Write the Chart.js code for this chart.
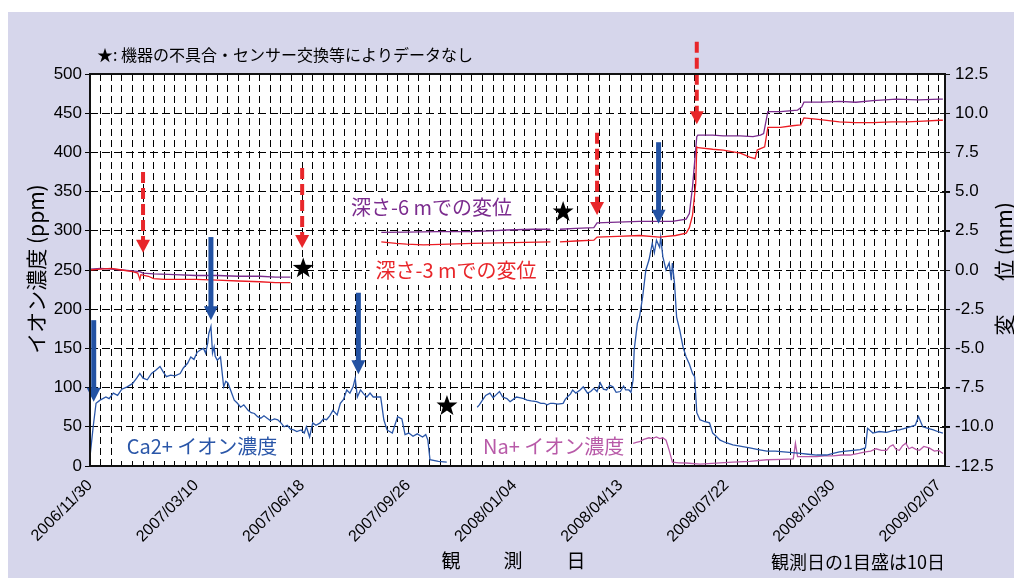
<!DOCTYPE html>
<html><head><meta charset="utf-8">
<script src="https://cdn.jsdelivr.net/npm/chart.js@4.4.1/dist/chart.umd.min.js"></script>
<style>
html,body{margin:0;padding:0;background:#fff;}
#wrap{position:relative;width:1014px;height:578px;}
</style></head><body>
<div id="wrap"><canvas id="c"></canvas></div>
<script>
// ---- tick labels (days since 2006/11/30) ----
const dayTicks = [0,100,200,300,400,500,600,700,800];
const dateLabels = ['2006/11/30','2007/03/10','2007/06/18','2007/09/26','2008/01/04','2008/04/13','2008/07/22','2008/10/30','2009/02/07'];

// ---- Ca2+ ion concentration (ppm) ----
const caDays = [0,3,5.7,9.5,15,18,22,26,30,35,40,44,47,50,54,58,62,66,69,72,76,80,85,88,92,95,98,101,104,107,109,111,112,114,115.5,117,118,120,123,126,128,130,133,136,139,142,145,149,152,155,158,161,164,167,170,174,177,180,183,186,189,192,195,199,202,204,207,210,213,217,220,223,226,229,233,236,239,242,245,248,250,252,255,258,261,264,267,271,274,277,280,285,290,294,297,300.5,304.5,308.5,313.5,316.5,318.5,320.5,328.4,336.3,350,
365,367,370,373,377,380,383,386,389,393,396,399,402,406,409,412,416,421,425,428,431,434,437,441,446,448,450,453,455,458,462,465,469,472,475,478,481,484,487,490,493,496,500,503,505,508,510,512,513,516,518,521,524,527,530,532,534,537,538,540,543,546,548,549,551,553,556,559,562,565,568,570,572,575,579,584,587,591,594,599,606,614,622,630,638,646,654,662,670,677,685,694.5,700.5,706.5,712.5,719.5,726,731,733,738,744,751,757,763,768,773,778,781,785,790,795,799,804];
const caPpm = [12,50,80,84,88,86,93,90,98,101,105,112,118,112,110,118,122,127,120,114,116,115,118,125,131,139,136,145,148,150,144,157,169,178,144,152,140,135,139,101,108,106,95,84,80,75,78,71,68,67,63,61,64,61,58,60,59,55,50,52,47,46,44,46,42,50,37,55,52,55,60,59,64,71,65,80,85,97,93,101,112,88,97,92,88,93,88,88,88,59,46,42,63,60,40,42,38,41,37,40,33,8,6,5,null,
75,78,84,90,93,87,91,95,88,86,82,85,88,87,86,84,83,82,80,80,78,80,80,79,80,85,88,92,97,93,97,101,93,95,99,95,106,98,97,103,101,94,95,102,97,97,94,110,148,182,190,216,250,263,284,272,288,279,292,267,250,259,237,259,233,190,173,152,139,130,118,114,68,59,57,55,42,37,33,30,27,25,23,21,19,19,18,17,16,15,14,14,16,18,19,20,21,23,48,42,44,43,45,46,48,50,52,63,50,48,46,44,42];

// ---- Na+ ion concentration (ppm) ----
const naDays = [512,515,518,522,527,530,534,537,540,543,546,549,555,562,575,594,606,622,638,652,663,665,667,677,685,692.5,700.5,708.5,716.5,724.5,731,736,741,746,751,754,757,760,763,766,769,772,775,779,782,786,791,796,800,804];
const naPpm = [29,30,31,34,36,35,37,35,36,33,20,5,4,3.8,2.5,4,5,6,8,8.5,9,29,12,12,12,13,13,14,14,16,18,19,22,20,20,25,27,21,20,26,29,22,24,21,20,25,23,19,20,16];

// ---- displacement at depth -6 m (mm) ----
const d6Days = [0,10,20,30,40,47,50,60,80,100,120,140,160,175,189,230,274.6,298.5,328.4,358,378,393,418,434,440,443,458,475,478,497.5,518,537,549,562,565,568,572,573,587,597,613,625,632,635,639,651,667,671,673,690.5,706.5,722,738,760,781,801,804];
const d6mm = [0.05,0.1,0.05,0,-0.05,-0.1,-0.2,-0.25,-0.3,-0.35,-0.35,-0.4,-0.4,-0.45,-0.45,null,2.4,2.42,2.45,2.45,2.5,2.55,2.6,2.6,null,2.6,2.65,2.7,3.0,3.05,3.1,3.1,3.1,3.25,3.6,5.3,8.5,8.6,8.6,8.55,8.55,8.5,8.6,8.7,10.1,10.1,10.2,10.4,10.7,10.7,10.75,10.7,10.8,10.9,10.85,10.9,10.9];

// ---- displacement at depth -3 m (mm) ----
const d3Days = [0,10,20,30,40,45,47,48,55,60,70,80,100,120,140,160,175,189,230,274.6,288.5,298.5,314.5,338,361,398,434,440,443,458,475,478,497.5,518,537,552,562,565,568,571,572,573,587,597,613,622,627,629,636,639,651,662,670,673,686.5,706.5,721,738,756,770,786,801,804];
const d3mm = [0,0.05,0.1,0,-0.1,-0.2,-0.6,-0.3,-0.4,-0.55,-0.6,-0.6,-0.6,-0.65,-0.7,-0.75,-0.8,-0.8,null,1.8,1.7,1.65,1.6,1.65,1.7,1.75,1.8,null,1.8,1.85,1.9,2.1,2.15,2.2,2.1,2.2,2.35,2.7,3.5,5.5,7.85,7.8,7.7,7.65,7.45,7.2,7.1,7.65,7.85,9.1,9.1,9.2,9.25,9.7,9.6,9.45,9.4,9.4,9.45,9.45,9.5,9.55,9.55];

// ---- annotations (data units: day, ppm) ----
const redArrowDays = [50,200,478,572];
const redArrowTop  = [375,380,425,541];
const redArrowTip  = [272,278,320,436];
const blueArrowDays = [3.5,114,253,536];
const blueArrowTop  = [186,292,221,413];
const blueArrowTip  = [82,186,117,309];
const starDays = [201,336.5,446];
const starPpm  = [252,76.5,324];
const seriesLabelTexts = ['深さ-6 mでの変位','深さ-3 mでの変位','Ca2+ イオン濃度','Na+ イオン濃度'];
const seriesLabelDays  = [322,345,105.6,437];
const seriesLabelPpm   = [330,250,25.5,25.5];
const seriesLabelColors = ['#7B2C8E','#E8262A','#2A56A8','#B85AA8'];

const FONT = '"Liberation Sans", Arial, "Noto Sans CJK JP", sans-serif';
const JFONT = '"Noto Sans CJK JP", "Liberation Sans", sans-serif';
const LAV = '#D6D6EB';
Chart.defaults.font.family = FONT;
Chart.defaults.color = '#000';

const xy = (xs, ys) => xs.map((x, i) => ({x: x, y: ys[i]}));

function drawStar(ctx, cx, cy, R, r) {
  ctx.beginPath();
  for (let i = 0; i < 10; i++) {
    const ang = -Math.PI / 2 + i * Math.PI / 5;
    const rad = i % 2 === 0 ? R : r;
    const px = cx + rad * Math.cos(ang), py = cy + rad * Math.sin(ang);
    if (i === 0) ctx.moveTo(px, py); else ctx.lineTo(px, py);
  }
  ctx.closePath();
  ctx.fill();
}
function drawArrow(ctx, x, yTop, yTip, color, dashed, lw, hw, hh) {
  ctx.save();
  ctx.strokeStyle = color; ctx.fillStyle = color; ctx.lineWidth = lw;
  ctx.setLineDash(dashed ? [11, 5] : []);
  ctx.beginPath(); ctx.moveTo(x, yTop); ctx.lineTo(x, yTip - hh + 1); ctx.stroke();
  ctx.setLineDash([]);
  ctx.beginPath(); ctx.moveTo(x - hw, yTip - hh); ctx.lineTo(x + hw, yTip - hh); ctx.lineTo(x, yTip); ctx.closePath(); ctx.fill();
  ctx.restore();
}

const deco = {
  id: 'deco',
  beforeDraw(chart) {
    const {ctx, chartArea: a, width, height} = chart;
    ctx.save();
    ctx.fillStyle = '#fff'; ctx.fillRect(0, 0, width, height);
    ctx.fillStyle = LAV; ctx.fillRect(8, 12, width - 8, height - 12);
    ctx.fillStyle = '#fff'; ctx.fillRect(a.left, a.top, a.right - a.left, a.bottom - a.top);
    ctx.restore();
  },
  beforeDatasetsDraw(chart) {
    const {ctx} = chart; const xs = chart.scales.x, ys = chart.scales.y;
    ctx.save();
    ctx.font = '20px ' + JFONT; ctx.textAlign = 'center'; ctx.textBaseline = 'middle';
    seriesLabelTexts.forEach((t, i) => {
      const cx = xs.getPixelForValue(seriesLabelDays[i]), cy = ys.getPixelForValue(seriesLabelPpm[i]);
      const w = ctx.measureText(t).width;
      ctx.fillStyle = '#fff'; ctx.fillRect(cx - w / 2 - 6, cy - 15, w + 12, 30);
      ctx.fillStyle = seriesLabelColors[i]; ctx.fillText(t, cx, cy);
    });
    ctx.restore();
  },
  afterDatasetsDraw(chart) {
    const {ctx} = chart; const xs = chart.scales.x, ys = chart.scales.y;
    redArrowDays.forEach((d, i) => drawArrow(ctx, xs.getPixelForValue(d), ys.getPixelForValue(redArrowTop[i]), ys.getPixelForValue(redArrowTip[i]), '#E8262A', true, 4, 7, 13));
    blueArrowDays.forEach((d, i) => drawArrow(ctx, xs.getPixelForValue(d), ys.getPixelForValue(blueArrowTop[i]), ys.getPixelForValue(blueArrowTip[i]), '#2352A3', false, 5, 7, 14));
    ctx.save(); ctx.fillStyle = '#000';
    starDays.forEach((d, i) => drawStar(ctx, xs.getPixelForValue(d), ys.getPixelForValue(starPpm[i]), 11, 4.4));
    ctx.restore();
  },
  afterDraw(chart) {
    const {ctx, chartArea: a} = chart; const y2 = chart.scales.y2;
    ctx.save();
    ctx.strokeStyle = '#111'; ctx.lineWidth = 2;
    ctx.strokeRect(a.left, a.top, a.right - a.left, a.bottom - a.top);
    ctx.lineWidth = 1;
    y2.ticks.forEach(t => { const py = Math.round(y2.getPixelForValue(t.value)) + 0.5; ctx.beginPath(); ctx.moveTo(a.right - 5, py); ctx.lineTo(a.right + 5, py); ctx.stroke(); });
    ctx.fillStyle = '#000'; ctx.textBaseline = 'middle';
    // title
    ctx.font = '16px ' + JFONT; ctx.textAlign = 'left';
    ctx.fillText('★: 機器の不具合・センサー交換等によりデータなし', 97, 55);
    // x axis title
    ctx.font = '19px ' + JFONT; ctx.textAlign = 'center';
    ctx.fillText('観', 451, 561); ctx.fillText('測', 513, 561); ctx.fillText('日', 576, 561);
    ctx.font = '18px ' + JFONT; ctx.textAlign = 'right';
    ctx.fillText('観測日の1目盛は10日', a.right, 562);
    // left axis title
    ctx.save(); ctx.translate(36, 269); ctx.rotate(-Math.PI / 2);
    ctx.font = '21px ' + JFONT; ctx.textAlign = 'center';
    ctx.fillText('イオン濃度 (ppm)', 0, 0); ctx.restore();
    // right axis title
    ctx.save(); ctx.translate(1004, 0); ctx.rotate(-Math.PI / 2);
    ctx.font = '21px ' + JFONT; ctx.textAlign = 'center';
    ctx.fillText('変', -325, 0);
    ctx.textAlign = 'left'; ctx.fillText('位 (mm)', -281, 0);
    ctx.restore();
    ctx.restore();
  }
};

new Chart(document.getElementById('c'), {
  type: 'line',
  data: {
    datasets: [
      {label: '深さ-3 m', data: xy(d3Days, d3mm), yAxisID: 'y2', borderColor: '#EC1C24', borderWidth: 1.3},
      {label: '深さ-6 m', data: xy(d6Days, d6mm), yAxisID: 'y2', borderColor: '#7B2C8E', borderWidth: 1.3},
      {label: 'Ca2+', data: xy(caDays, caPpm), yAxisID: 'y', borderColor: '#2A56A8', borderWidth: 1.3},
      {label: 'Na+', data: xy(naDays, naPpm), yAxisID: 'y', borderColor: '#B85AA8', borderWidth: 1.3}
    ]
  },
  options: {
    responsive: true, maintainAspectRatio: false, animation: false,
    layout: {padding: {top: 74, left: 0, right: 0, bottom: 0}},
    elements: {point: {radius: 0}, line: {tension: 0}},
    spanGaps: false,
    plugins: {legend: {display: false}, tooltip: {enabled: false}},
    scales: {
      x: {
        type: 'linear', min: 0, max: 806,
        afterFit(s) { s.height = 112; },
        ticks: {stepSize: 10, autoSkip: false, includeBounds: false, minRotation: 45, maxRotation: 45, padding: 10,
          font: {size: 16}, color: '#000',
          callback: v => { const i = dayTicks.indexOf(v); return i >= 0 ? dateLabels[i] : ''; }},
        grid: {color: '#000', lineWidth: 1, drawTicks: false},
        border: {display: false, dash: [7, 4]}
      },
      y: {
        position: 'left', min: 0, max: 500,
        afterFit(s) { s.width = 90; },
        ticks: {stepSize: 50, padding: 3, font: {size: 17}, color: '#000'},
        grid: {color: '#000', lineWidth: 1, drawTicks: true, tickLength: 5, tickColor: '#000'},
        border: {display: false, dash: [8, 4]}
      },
      y2: {
        position: 'right', min: -12.5, max: 12.5,
        afterFit(s) { s.width = 69; },
        ticks: {stepSize: 2.5, padding: 5, font: {size: 17}, color: '#000', callback: v => v.toFixed(1)},
        grid: {drawOnChartArea: false, drawTicks: true, tickLength: 5, color: '#000'},
        border: {display: false}
      }
    }
  },
  plugins: [deco]
});
</script>
</body></html>
